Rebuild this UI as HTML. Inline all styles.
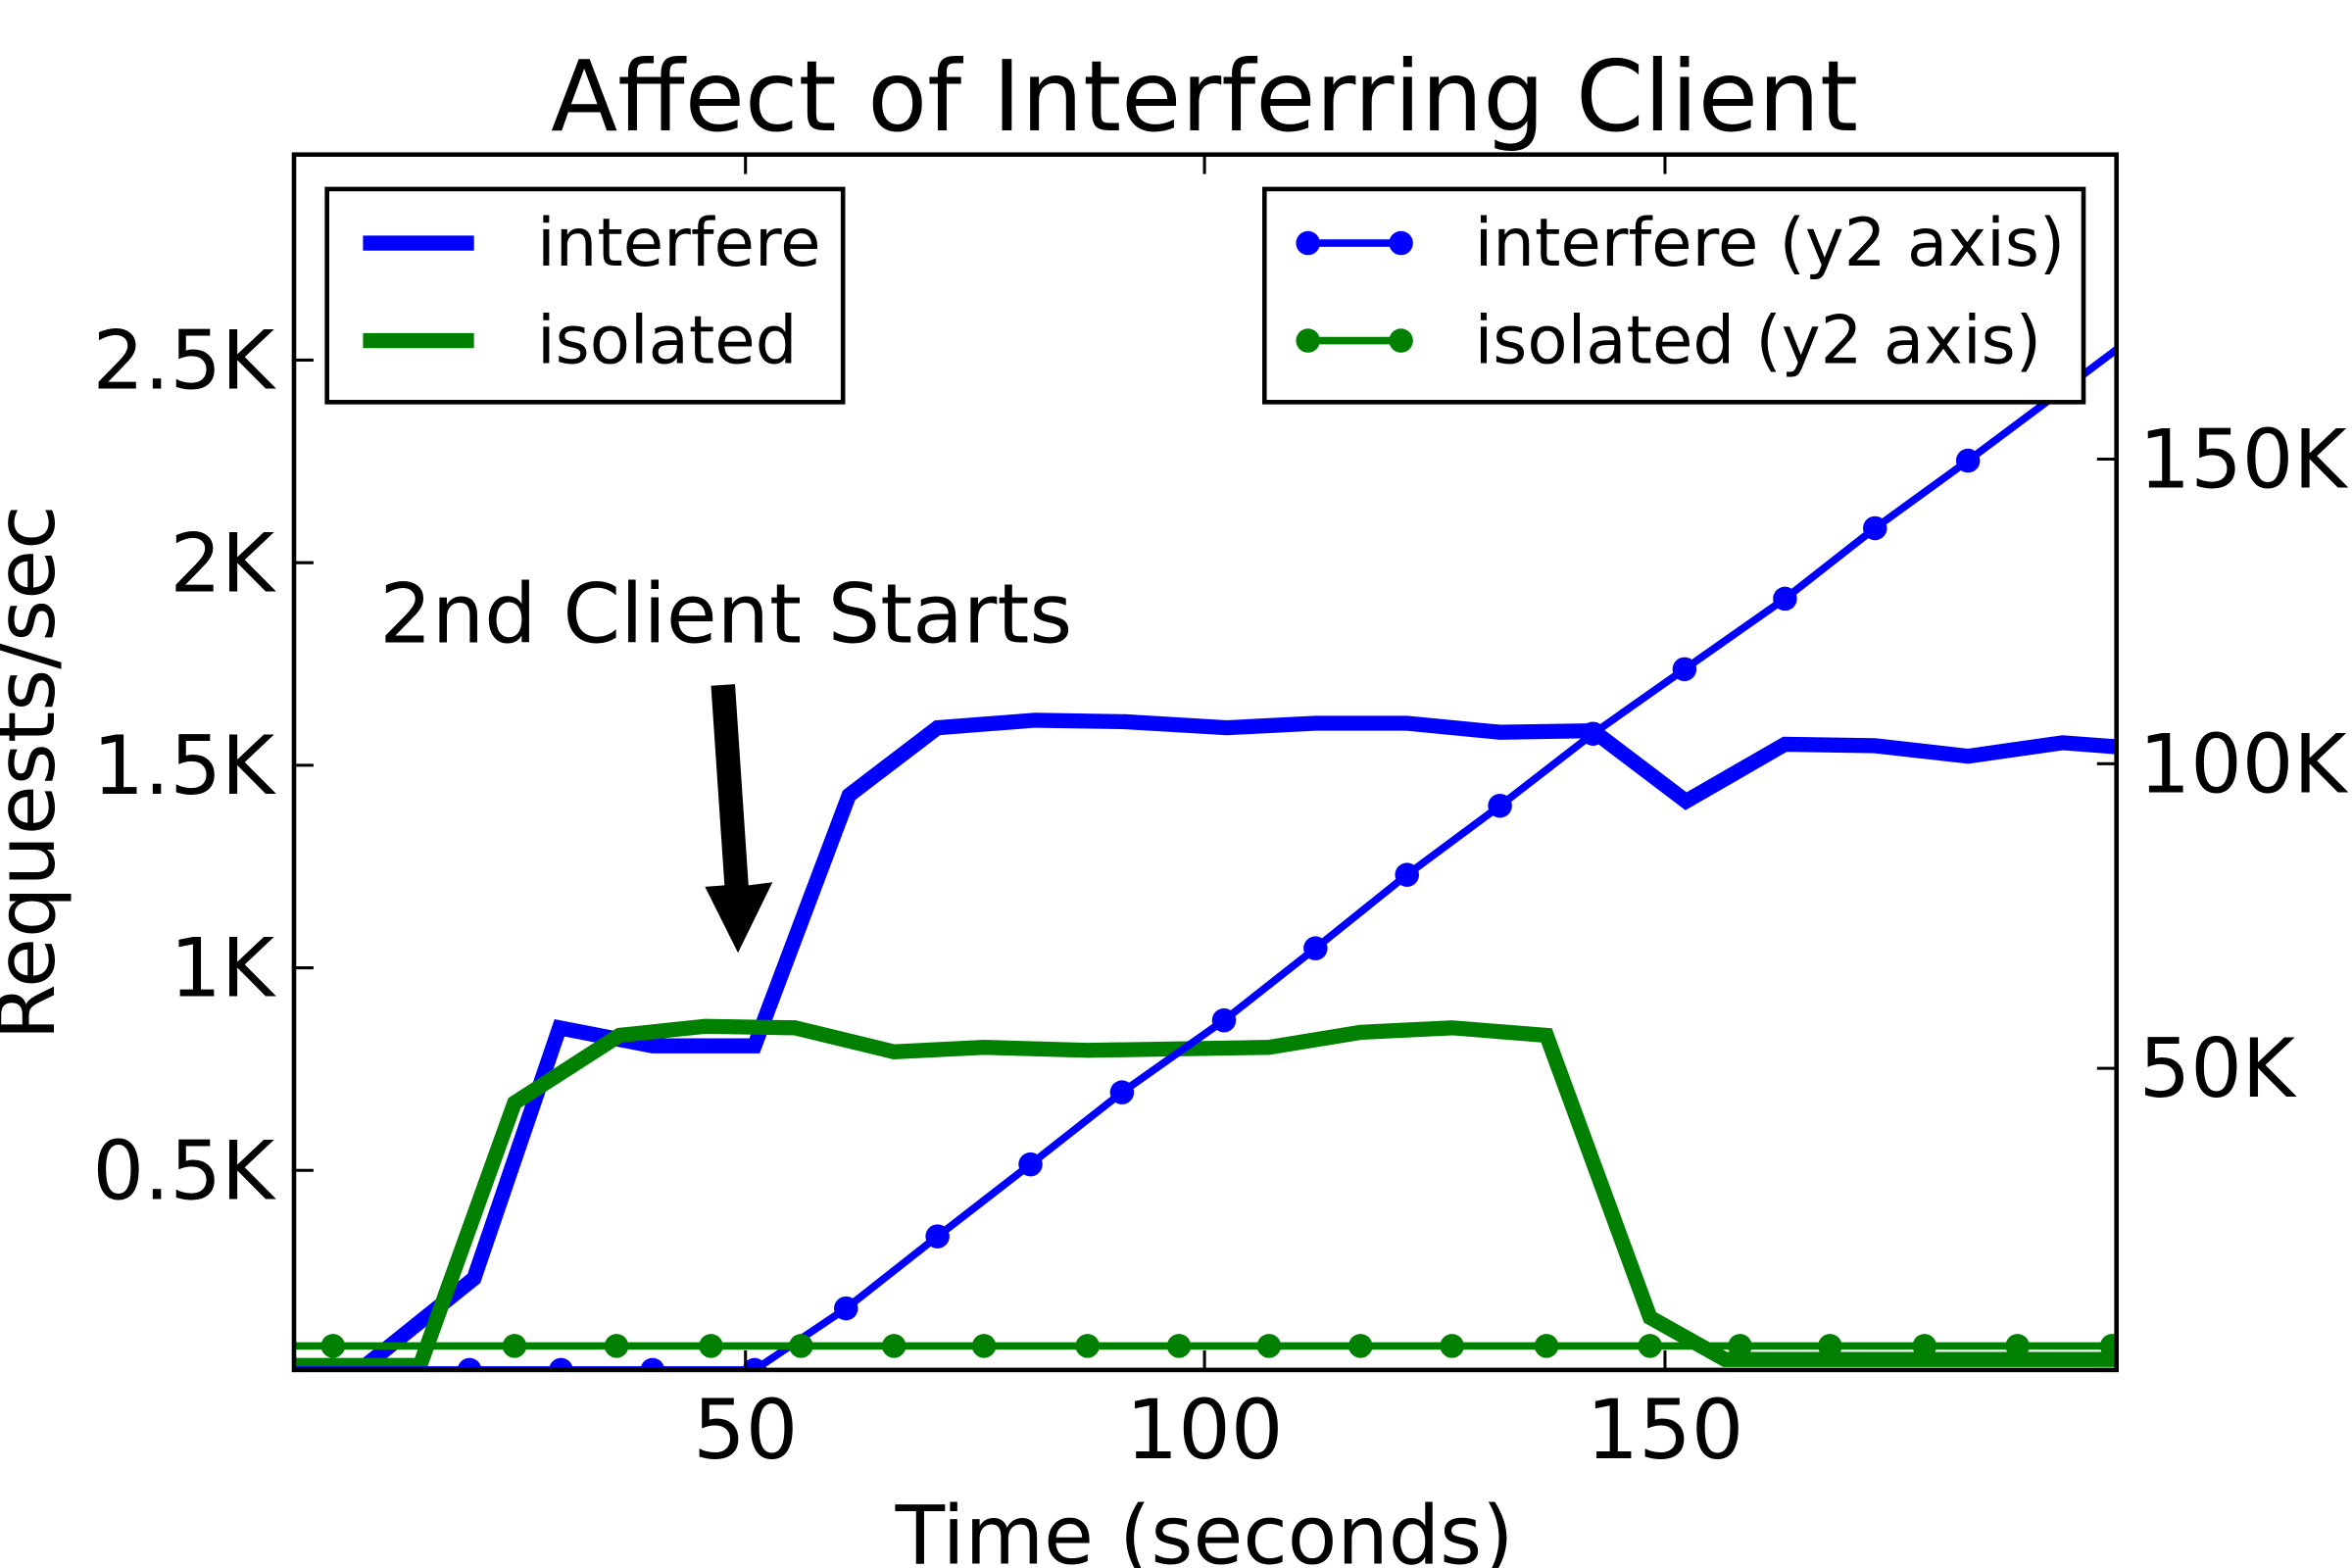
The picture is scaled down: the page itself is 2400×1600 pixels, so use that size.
<!DOCTYPE html>
<html><head><meta charset="utf-8"><style>
html,body{margin:0;padding:0;background:#fff;width:2400px;height:1600px;overflow:hidden}
svg{display:block}
text{font-family:"DejaVu Sans","Liberation Sans",sans-serif;fill:#000}
</style></head><body>
<svg width="2400" height="1600" viewBox="0 0 1568 1045" preserveAspectRatio="none" xmlns="http://www.w3.org/2000/svg">
<rect width="1568" height="1045" fill="#fff"/>
<text x="803" y="87" font-size="65" text-anchor="middle">Affect of Interferring Client</text>
<defs><clipPath id="c"><rect x="196" y="103" width="1215" height="810"/></clipPath></defs>
<g clip-path="url(#c)" fill="none" stroke-linejoin="miter">
<polyline stroke="#0000ff" stroke-width="10" points="196,913 240,913 316,852 373,685 435,697 503,697 566,530 625,485 690,480 750,481 818,485 877,482 938,482 1000,488 1062,487 1124,534 1190,496 1250,497 1312,504 1375,495 1415,498"/>
<polyline stroke="#008000" stroke-width="10" points="196,910 280,910 343,735 413,690 470,684 530,685 596,701 656,698 725,700 786,699 846,698 907,688 968,685 1031,690 1100,878 1150,906 1415,906"/>
<polyline stroke="#0000ff" stroke-width="5" points="196,913 503,913 564,872 625,824 687,776 748,728 816,680 877,632 938,583 1000,537 1062,489 1123,446 1190,399 1250,352 1312,307 1375,260 1415,230"/>
<line x1="196" y1="897" x2="1411" y2="897" stroke="#008000" stroke-width="5"/>
<g fill="#0000ff" stroke="none">
<circle cx="313" cy="913" r="8"/><circle cx="374" cy="913" r="8"/><circle cx="435" cy="913" r="8"/><circle cx="503" cy="913" r="8"/>
<circle cx="564" cy="872" r="8"/><circle cx="625" cy="824" r="8"/><circle cx="687" cy="776" r="8"/><circle cx="748" cy="728" r="8"/><circle cx="816" cy="680" r="8"/><circle cx="877" cy="632" r="8"/><circle cx="938" cy="583" r="8"/><circle cx="1000" cy="537" r="8"/><circle cx="1062" cy="489" r="8"/><circle cx="1123" cy="446" r="8"/><circle cx="1190" cy="399" r="8"/><circle cx="1250" cy="352" r="8"/><circle cx="1312" cy="307" r="8"/><circle cx="1375" cy="260" r="8"/>
</g>
<g fill="#008000" stroke="none">
<circle cx="222" cy="897" r="8"/><circle cx="343" cy="897" r="8"/><circle cx="411" cy="897" r="8"/><circle cx="474" cy="897" r="8"/><circle cx="534" cy="897" r="8"/><circle cx="596" cy="897" r="8"/><circle cx="656" cy="897" r="8"/><circle cx="725" cy="897" r="8"/><circle cx="786" cy="897" r="8"/><circle cx="846" cy="897" r="8"/><circle cx="907" cy="897" r="8"/><circle cx="968" cy="897" r="8"/><circle cx="1031" cy="897" r="8"/><circle cx="1100" cy="897" r="8"/><circle cx="1160" cy="897" r="8"/><circle cx="1220" cy="897" r="8"/><circle cx="1283" cy="897" r="8"/><circle cx="1345" cy="897" r="8"/><circle cx="1408" cy="897" r="8"/>
</g>
</g>
<rect x="196" y="103" width="1215" height="810" fill="none" stroke="#000" stroke-width="3"/>
<g stroke="#000" stroke-width="2">
<line x1="497" y1="913" x2="497" y2="900"/><line x1="803" y1="913" x2="803" y2="900"/><line x1="1110" y1="913" x2="1110" y2="900"/>
<line x1="497" y1="103" x2="497" y2="116"/><line x1="803" y1="103" x2="803" y2="116"/><line x1="1110" y1="103" x2="1110" y2="116"/>
<line x1="196" y1="780" x2="209" y2="780"/><line x1="196" y1="645" x2="209" y2="645"/><line x1="196" y1="510" x2="209" y2="510"/><line x1="196" y1="375" x2="209" y2="375"/><line x1="196" y1="240" x2="209" y2="240"/>
<line x1="1411" y1="712" x2="1398" y2="712"/><line x1="1411" y1="509" x2="1398" y2="509"/><line x1="1411" y1="306" x2="1398" y2="306"/>
</g>
<g font-size="54">
<text x="183" y="799" text-anchor="end">0.5K</text>
<text x="183" y="664" text-anchor="end">1K</text>
<text x="183" y="529" text-anchor="end">1.5K</text>
<text x="183" y="394" text-anchor="end">2K</text>
<text x="183" y="259" text-anchor="end">2.5K</text>
<text x="1426" y="731">50K</text>
<text x="1426" y="528">100K</text>
<text x="1426" y="325">150K</text>
</g>
<g font-size="55">
<text x="497" y="972" text-anchor="middle">50</text>
<text x="803" y="972" text-anchor="middle">100</text>
<text x="1110" y="972" text-anchor="middle">150</text>
</g>
<text x="803" y="1042" font-size="54" text-anchor="middle">Time (seconds)</text>
<text transform="translate(36,515) rotate(-90)" font-size="54" text-anchor="middle">Requests/sec</text>
<text x="253" y="428" font-size="55">2nd Client Starts</text>
<polygon points="474,457 490,456 499,590 515,588 492,635 470,591 483,590" fill="#000"/>
<rect x="218" y="126" width="344" height="142" fill="#fff" stroke="#000" stroke-width="3"/>
<line x1="242" y1="162" x2="316" y2="162" stroke="#0000ff" stroke-width="10"/>
<line x1="242" y1="227" x2="316" y2="227" stroke="#008000" stroke-width="10"/>
<text x="358" y="177" font-size="44">interfere</text>
<text x="358" y="242" font-size="44">isolated</text>
<rect x="843" y="126" width="546" height="142" fill="#fff" stroke="#000" stroke-width="3"/>
<line x1="872" y1="162" x2="934" y2="162" stroke="#0000ff" stroke-width="5"/>
<circle cx="872" cy="162" r="8" fill="#0000ff"/><circle cx="934" cy="162" r="8" fill="#0000ff"/>
<line x1="872" y1="227" x2="934" y2="227" stroke="#008000" stroke-width="5"/>
<circle cx="872" cy="227" r="8" fill="#008000"/><circle cx="934" cy="227" r="8" fill="#008000"/>
<text x="983" y="177" font-size="44">interfere (y2 axis)</text>
<text x="983" y="242" font-size="44">isolated (y2 axis)</text>
</svg>
</body></html>
